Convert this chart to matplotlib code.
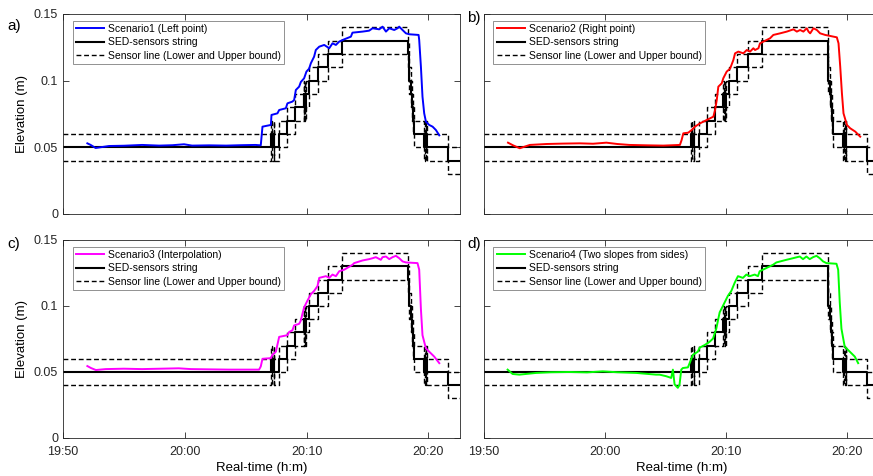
import matplotlib.pyplot as plt

plt.rcParams['font.family'] = ['Liberation Sans', 'DejaVu Sans']

# x axis in minutes after 19:50
tick_pos = [0, 10, 20, 30]
tick_labels = ['19:50', '20:00', '20:10', '20:20']
y_ticks = [0, 0.05, 0.1, 0.15]
y_labels = ['0', '0.05', '0.1', '0.15']

# SED-sensors string (step values, held until next time)
sed_t = [0, 17.10, 17.15, 17.30, 17.35, 17.71, 18.43, 19.06, 19.75, 19.80, 19.85,
         19.90, 19.95, 20.21, 20.90, 21.80, 22.95, 28.35, 28.38, 28.42, 28.55,
         28.65, 28.72, 28.84, 29.66, 29.72, 29.78, 29.84, 29.90, 31.58, 32.6]
sed_v = [0.05, 0.06, 0.05, 0.06, 0.05, 0.06, 0.07, 0.08, 0.09, 0.08, 0.09,
         0.08, 0.09, 0.10, 0.11, 0.12, 0.13, 0.12, 0.11, 0.10, 0.09,
         0.08, 0.07, 0.06, 0.05, 0.06, 0.05, 0.06, 0.05, 0.04, 0.04]
upper_v = [0.06, 0.07, 0.06, 0.07, 0.06, 0.07, 0.08, 0.09, 0.10, 0.09, 0.10,
           0.09, 0.10, 0.11, 0.12, 0.13, 0.14, 0.13, 0.12, 0.11, 0.10,
           0.09, 0.08, 0.07, 0.06, 0.07, 0.06, 0.07, 0.06, 0.05, 0.05]
lower_v = [0.04, 0.05, 0.04, 0.05, 0.04, 0.05, 0.06, 0.07, 0.08, 0.07, 0.08,
           0.07, 0.08, 0.09, 0.10, 0.11, 0.12, 0.11, 0.10, 0.09, 0.08,
           0.07, 0.06, 0.05, 0.04, 0.05, 0.04, 0.05, 0.04, 0.03, 0.03]

# Scenario1 (Left point)
s1_t = [2.0, 2.27, 2.68, 3.78, 5.0, 6.5, 7.9, 9.0, 9.94, 10.6, 12.0, 13.4, 14.6, 15.8,
        16.24, 16.38, 17.07, 17.12, 17.61, 17.75, 18.3, 18.43, 18.84, 18.98, 19.12,
        19.39, 19.53, 19.8, 19.99, 20.21, 20.35, 20.62, 20.76, 21.04, 21.45, 21.86,
        22.13, 22.41, 22.68, 23.09, 23.64, 23.77, 24.6, 25.14, 25.42, 25.97, 26.24,
        26.52, 26.79, 27.2, 27.47, 27.61, 27.88, 28.16, 28.43, 29.2, 29.25, 29.39,
        29.52, 29.66, 29.8, 29.94, 30.07, 30.35, 30.48, 30.62, 30.9]
s1_v = [0.053, 0.0518, 0.0495, 0.051, 0.0512, 0.0518, 0.0513, 0.0516, 0.0523, 0.0513,
        0.0515, 0.0513, 0.0516, 0.0518, 0.0515, 0.0655, 0.0668, 0.0743, 0.0755, 0.078,
        0.0793, 0.083, 0.0843, 0.0855, 0.093, 0.0955, 0.099, 0.1018, 0.1068, 0.109,
        0.113, 0.118, 0.123, 0.1255, 0.1268, 0.1243, 0.128, 0.1268, 0.1293, 0.131,
        0.133, 0.136, 0.1368, 0.1375, 0.1393, 0.1385, 0.1405, 0.1368, 0.1393, 0.138,
        0.1393, 0.1405, 0.138, 0.1355, 0.1348, 0.1343, 0.1305, 0.1105, 0.088, 0.0755,
        0.0693, 0.068, 0.0668, 0.0655, 0.0643, 0.063, 0.059]

# Scenario2 (Right point)
s2_t = [1.98, 2.4, 2.95, 3.78, 5.16, 6.5, 7.9, 9.0, 10.1, 11.0, 12.0, 13.5, 14.8, 16.17,
        16.31, 16.45, 16.86, 17.14, 17.41, 17.83, 18.38, 18.93, 19.07, 19.21, 19.34,
        19.62, 19.75, 20.03, 20.31, 20.58, 20.72, 20.99, 21.4, 21.69, 21.96, 22.23,
        22.37, 22.65, 22.78, 23.06, 23.61, 23.88, 24.44, 24.99, 25.54, 25.82, 26.09,
        26.36, 26.64, 26.78, 26.92, 27.19, 27.47, 27.74, 28.16, 29.12, 29.26, 29.4,
        29.54, 29.67, 29.95, 30.22, 30.64, 31.05]
s2_v = [0.0535, 0.0515, 0.0493, 0.0518, 0.0525, 0.0528, 0.053, 0.0527, 0.0535, 0.0525,
        0.0518, 0.0515, 0.0513, 0.0518, 0.0555, 0.0605, 0.061, 0.063, 0.0655, 0.068,
        0.0705, 0.073, 0.078, 0.0855, 0.0955, 0.098, 0.1018, 0.1068, 0.109, 0.1155,
        0.1205, 0.1218, 0.1205, 0.123, 0.1218, 0.1243, 0.123, 0.1243, 0.128, 0.1293,
        0.1318, 0.1343, 0.1355, 0.1368, 0.1385, 0.1368, 0.138, 0.1368, 0.1393, 0.1368,
        0.1355, 0.1393, 0.138, 0.1355, 0.1343, 0.1325, 0.128, 0.1105, 0.0905, 0.0755,
        0.0668, 0.0643, 0.0618, 0.058]

# Scenario3 (Interpolation)
s3_t = [2.0, 2.3, 2.7, 3.5, 5.0, 6.5, 8.0, 9.5, 10.5, 12.0, 13.64, 15.0, 16.1,
        16.24, 16.38, 17.07, 17.2, 17.48, 17.75, 18.43, 18.57, 18.84, 18.98, 19.39,
        19.53, 19.66, 19.8, 20.07, 20.35, 20.62, 20.9, 21.04, 21.59, 21.86, 22.13,
        22.41, 22.68, 23.09, 23.77, 23.91, 24.6, 25.14, 25.42, 25.69, 26.1, 26.24,
        26.52, 26.79, 27.06, 27.34, 27.61, 27.88, 28.16, 29.11, 29.25, 29.39, 29.52,
        29.8, 30.07, 30.48, 30.9]
s3_v = [0.0545, 0.053, 0.0515, 0.0522, 0.0525, 0.0522, 0.0525, 0.0528, 0.0522, 0.052,
        0.0518, 0.0518, 0.0518, 0.0542, 0.06, 0.0605, 0.063, 0.0654, 0.0766, 0.0779,
        0.0803, 0.0816, 0.0853, 0.0865, 0.089, 0.094, 0.099, 0.104, 0.1089, 0.1114,
        0.1151, 0.1213, 0.1226, 0.1213, 0.1238, 0.1226, 0.1263, 0.1275, 0.1312, 0.1325,
        0.1345, 0.1355, 0.1362, 0.137, 0.135, 0.137, 0.1375, 0.1355, 0.137, 0.138,
        0.1362, 0.1338, 0.133, 0.1325, 0.1275, 0.0977, 0.0779, 0.0679, 0.0654, 0.0617,
        0.0567]

# Scenario4 (Two slopes from sides)
s4_t = [1.95, 2.36, 2.92, 4.3, 5.5, 7.05, 8.5, 9.8, 11.0, 12.56, 14.2, 14.49, 15.04,
        15.3, 15.45, 15.59, 15.73, 16.0, 16.14, 16.28, 16.41, 16.83, 16.97, 17.24,
        17.65, 17.79, 18.21, 18.62, 18.9, 19.17, 19.31, 19.45, 19.59, 19.86, 20.13,
        20.41, 20.69, 20.96, 21.37, 21.65, 21.93, 22.34, 22.61, 22.75, 23.02, 23.85,
        24.13, 24.96, 25.5, 26.06, 26.33, 26.61, 26.88, 27.16, 27.44, 27.71, 27.98,
        28.26, 29.09, 29.23, 29.36, 29.5, 29.77, 30.19, 30.6, 30.88]
s4_v = [0.0518, 0.0485, 0.048, 0.0493, 0.0498, 0.05, 0.0497, 0.0505, 0.0498, 0.0493,
        0.048, 0.048, 0.0468, 0.046, 0.0455, 0.0518, 0.0406, 0.038, 0.0406, 0.0518,
        0.053, 0.0535, 0.0567, 0.063, 0.0654, 0.0684, 0.0704, 0.0729, 0.0753, 0.0828,
        0.089, 0.0952, 0.0977, 0.1027, 0.1077, 0.1114, 0.1176, 0.1226, 0.1213, 0.1238,
        0.1226, 0.1238, 0.1226, 0.1263, 0.1275, 0.1312, 0.133, 0.135, 0.1362, 0.1375,
        0.1355, 0.1375, 0.1355, 0.137, 0.138, 0.1362, 0.1338, 0.1325, 0.132, 0.1275,
        0.1027, 0.0828, 0.0692, 0.0654, 0.0617, 0.0567]

panels = [
    ('a)', s1_t, s1_v, 'blue', 'Scenario1 (Left point)'),
    ('b)', s2_t, s2_v, 'red', 'Scenario2 (Right point)'),
    ('c)', s3_t, s3_v, 'magenta', 'Scenario3 (Interpolation)'),
    ('d)', s4_t, s4_v, 'lime', 'Scenario4 (Two slopes from sides)'),
]

W, H = 873, 476
boxes = [(63, 14, 397, 200), (484, 14, 395, 200),
         (63, 240, 397, 198), (484, 240, 395, 198)]
letter_pos = [(14, 26), (474, 18), (14, 244), (474, 244)]

fig = plt.figure(figsize=(W / 100, H / 100), dpi=100)

for i, (tag, t, v, col, lab) in enumerate(panels):
    x0, y0, w, h = boxes[i]
    ax = fig.add_axes([x0 / W, 1 - (y0 + h) / H, w / W, h / H])
    ax.step(sed_t, upper_v, where='post', color='k', lw=1.0, ls=(0, (3.5, 2)))
    hb, = ax.step(sed_t, lower_v, where='post', color='k', lw=1.0, ls=(0, (3.5, 2)),
                  label='Sensor line (Lower and Upper bound)')
    hs, = ax.step(sed_t, sed_v, where='post', color='k', lw=1.5,
                  label='SED-sensors string')
    hc, = ax.plot(t, v, color=col, lw=1.4, label=lab)

    ax.set_xlim(0, 32.6)
    ax.set_ylim(0, 0.15)
    ax.set_xticks(tick_pos)
    ax.set_yticks(y_ticks)
    ax.tick_params(direction='in', top=True, right=True, length=4, width=0.6,
                   labelsize=9, colors='0.15')
    ax.tick_params(axis='x', pad=6)
    for sp in ax.spines.values():
        sp.set_color('0.15')
        sp.set_linewidth(0.6)

    if i >= 2:
        ax.set_xticklabels(tick_labels)
        ax.set_xlabel('Real-time (h:m)', fontsize=9.5, labelpad=3)
    else:
        ax.set_xticklabels([])
    if i % 2 == 0:
        ax.set_yticklabels(y_labels)
        ax.set_ylabel('Elevation (m)', fontsize=9.5, labelpad=4)
    else:
        ax.set_yticklabels([])

    leg = ax.legend(handles=[hc, hs, hb], loc='upper left',
                    bbox_to_anchor=(0.024, 0.967), borderaxespad=0,
                    fontsize=7.5, fancybox=False, edgecolor='0.5',
                    framealpha=1, handlelength=2.7, handletextpad=0.4,
                    labelspacing=0.35, borderpad=0.3)
    leg.get_frame().set_linewidth(0.6)

    fig.text(letter_pos[i][0] / W, 1 - letter_pos[i][1] / H, tag,
             fontsize=11, ha='center', va='center')

fig.savefig('out.png', dpi=100)
